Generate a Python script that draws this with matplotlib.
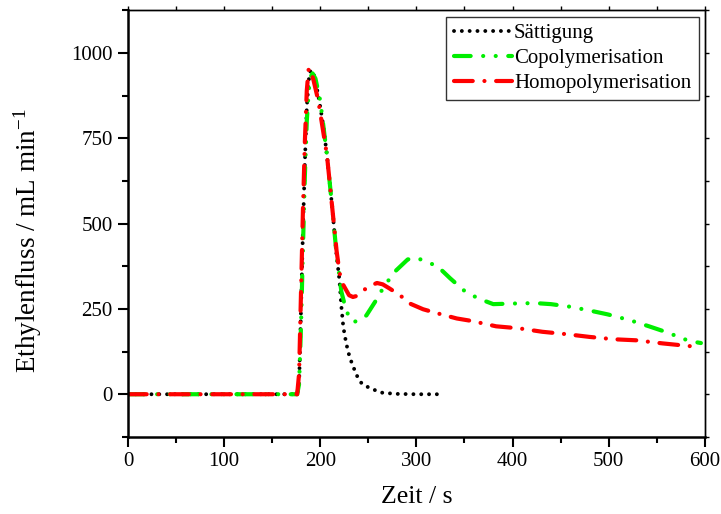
import matplotlib
matplotlib.use("Agg")
import matplotlib.pyplot as plt
from matplotlib.ticker import MultipleLocator

plt.rcParams['font.family'] = ['Liberation Serif', 'DejaVu Serif']
plt.rcParams['mathtext.fontset'] = 'custom'
plt.rcParams['mathtext.rm'] = 'Liberation Serif'
plt.rcParams['mathtext.it'] = 'Liberation Serif:italic'

# baseline before the pulse (all three runs sit at 0)
base_t = [0, 10, 20, 30, 40, 50, 60, 70, 80, 90, 100, 110, 120, 130, 140, 150, 160, 170]
base_y = [0] * len(base_t)

# Saettigung (saturation)
sat_t = base_t + [176, 178, 180, 182, 184, 186, 188, 190, 193, 198, 203, 207, 212, 217,
                  220, 222, 224, 227, 230, 233, 238, 243, 252, 265, 280, 300, 325]
sat_y = base_y + [0, 30, 250, 480, 680, 840, 920, 950, 940, 876, 790, 700, 560, 407,
                  334, 256, 197, 149, 115, 90, 55, 32, 17, 4, 1, 0, 0]

# Copolymerisation
cop_t = base_t + [176, 178, 180, 182, 184, 186, 188, 190, 192, 195, 200, 207, 212, 217,
                  220, 222, 226, 230, 234, 240, 248, 258, 267, 279, 291, 300, 307, 322,
                  335, 349, 364, 380, 404, 424, 440, 461, 484, 499, 522, 542, 560, 582,
                  590, 596]
cop_y = base_y + [0, 30, 200, 430, 640, 800, 890, 930, 940, 925, 860, 700, 560, 410,
                  345, 300, 256, 225, 212, 215, 231, 275, 319, 363, 395, 400, 392, 375,
                  340, 305, 281, 264, 266, 267, 264, 256, 243, 234, 217, 199, 182, 158,
                  153, 150]

# Homopolymerisation
hom_t = base_t + [176, 178, 180, 182, 184, 186, 188, 190, 193, 198, 207, 217, 220, 222,
                  226, 230, 234, 238, 243, 250, 259, 265, 272, 283, 293, 307, 322, 342,
                  357, 383, 407, 431, 456, 480, 506, 529, 556, 588, 596]
hom_y = base_y + [0, 60, 300, 540, 740, 890, 955, 950, 920, 860, 700, 420, 358, 330,
                  310, 290, 285, 288, 300, 315, 326, 322, 310, 290, 266, 249, 237, 222,
                  215, 199, 193, 183, 176, 168, 161, 158, 149, 140, 138]

fig = plt.figure(figsize=(7.21, 5.14), dpi=100)
ax = fig.add_axes([0.1775, 0.150, 0.8, 0.830])

ax.plot(sat_t, sat_y, color='black', lw=2.8, linestyle=(0, (0.01, 2.0)),
        dash_capstyle='round', label='Sättigung')
ax.plot(cop_t, cop_y, color='#00ee00', lw=3.0, linestyle=(0, (4.0, 3.0, 0.01, 3.0, 0.01, 3.0)),
        dash_capstyle='round', label='Copolymerisation')
ax.plot(hom_t, hom_y, color='#ff0000', lw=3.0, linestyle=(0, (4.5, 2.8, 0.01, 2.8)),
        dash_capstyle='round', label='Homopolymerisation')

ax.set_xlim(0, 600)
ax.set_ylim(-125, 1125)
ax.xaxis.set_major_locator(MultipleLocator(100))
ax.xaxis.set_minor_locator(MultipleLocator(50))
ax.yaxis.set_major_locator(MultipleLocator(250))
ax.yaxis.set_minor_locator(MultipleLocator(125))

ax.tick_params(which='both', direction='out', labelsize=15, width=1.5, pad=4)
ax.tick_params(which='major', length=7)
ax.tick_params(which='minor', length=4)
for s in ['left', 'bottom']:
    ax.spines[s].set_linewidth(1.8)
for s in ['top', 'right']:
    ax.spines[s].set_linewidth(1.0)

# small outward ticks on the top and right frame
top = ax.secondary_xaxis('top')
top.xaxis.set_major_locator(MultipleLocator(100))
top.xaxis.set_minor_locator(MultipleLocator(50))
top.tick_params(which='both', direction='out', length=3, width=1.0, labeltop=False)
top.spines['top'].set_linewidth(1.0)
right = ax.secondary_yaxis('right')
right.yaxis.set_major_locator(MultipleLocator(250))
right.yaxis.set_minor_locator(MultipleLocator(125))
right.tick_params(which='both', direction='out', length=3, width=1.0, labelright=False)
right.spines['right'].set_linewidth(1.0)

ax.set_xlabel('Zeit / s', fontsize=18.5, labelpad=11)
ax.set_ylabel('Ethylenfluss / mL min$^{-1}$', fontsize=19.5)
ax.yaxis.set_label_coords(-0.146, 0.46)

leg = ax.legend(loc='upper right', fontsize=15, frameon=True, fancybox=False,
                edgecolor='black', handlelength=2.8, handletextpad=0.1,
                borderpad=0.35, labelspacing=0.25, borderaxespad=0.3)
leg.get_frame().set_linewidth(1.0)

fig.savefig('out.png', dpi=100)
